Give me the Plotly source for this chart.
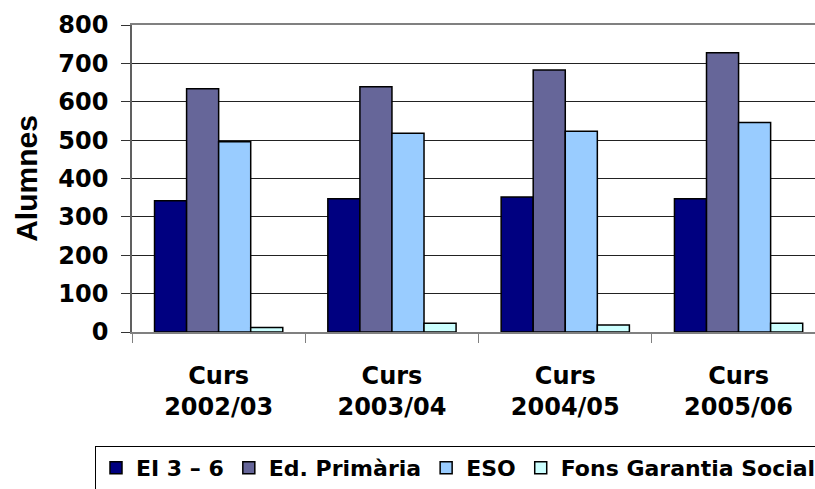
import plotly.graph_objects as go

categories = ["Curs<br>2002/03", "Curs<br>2003/04", "Curs<br>2004/05", "Curs<br>2005/06"]
series_names = ["EI 3 – 6", "Ed. Primària", "ESO", "Fons Garantia Social"]
ei_3_6 = [342, 347, 352, 347]
ed_primaria = [634, 639, 683, 728]
eso = [496, 518, 523, 546]
fons_garantia = [12, 23, 18, 23]
colors = ["#000080", "#666699", "#99CCFF", "#CCFFFF"]
y_ticks = [0, 100, 200, 300, 400, 500, 600, 700, 800]

TICKFONT = "DejaVu Sans, Verdana, sans-serif"
TITLEFONT = "Liberation Sans, Arial, sans-serif"

W, H = 815, 489
L, T, PH = 132, 25, 307
PW = W - L

fig = go.Figure()
for name, vals, col in zip(series_names, [ei_3_6, ed_primaria, eso, fons_garantia], colors):
    fig.add_trace(go.Bar(
        x=categories, y=vals, name=name,
        marker=dict(color=col, line=dict(color="#000000", width=1.5)),
    ))

fig.update_layout(
    width=W, height=H,
    margin=dict(l=L, r=0, t=T, b=H - T - PH, autoexpand=False),
    paper_bgcolor="white", plot_bgcolor="white",
    barmode="group", bargap=0.26, bargroupgap=0,
    font=dict(family=TICKFONT, color="black"),
    showlegend=True,
    legend=dict(
        orientation="h",
        xref="paper", yref="paper",
        x=(95 - L) / PW, xanchor="left",
        y=-(446 - (T + PH)) / PH, yanchor="top",
        bordercolor="#000000", borderwidth=1, bgcolor="white",
        font=dict(family=TICKFONT, size=22, color="black", weight="bold"),
        traceorder="normal",
    ),
)
fig.update_xaxes(
    type="category", range=[-0.5, 3.441],
    showline=True, linecolor="#808080", linewidth=2, mirror=True,
    ticks="outside", tickson="boundaries", ticklen=9, tickcolor="#808080", tickwidth=1,
    ticklabelstandoff=21,
    tickfont=dict(family=TICKFONT, size=24, color="black", weight="bold"),
    showgrid=False,
)
fig.update_yaxes(
    range=[0, 800], tickvals=y_ticks, ticktext=[str(v) for v in y_ticks],
    showline=True, linecolor="#606060", linewidth=1.5,
    ticks="outside", ticklen=9, tickcolor="#333333", tickwidth=1,
    ticklabelstandoff=8,
    tickfont=dict(family=TICKFONT, size=24, color="black", weight="bold"),
    showgrid=True, gridcolor="#222222", gridwidth=1, zeroline=False,
    title=dict(text="Alumnes", font=dict(family=TITLEFONT, size=30, color="black", weight="bold"), standoff=12),
)

fig.write_html("out.html", config={"displayModeBar": False},
               post_script="document.body.style.margin='0';")
